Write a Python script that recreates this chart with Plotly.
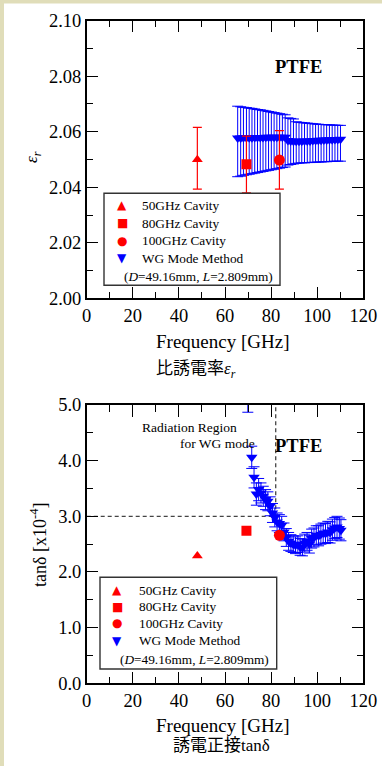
import plotly.graph_objects as go

W, H = 382, 766
SERIF = "Liberation Serif, Times New Roman, serif"
CJK = "Liberation Serif, Noto Sans CJK JP, serif"

# ---------------- data ----------------
# cavity resonator results (frequency GHz)
cav_names = ["50GHz Cavity", "80GHz Cavity", "100GHz Cavity"]
cav_freq = [48.0, 69.3, 83.6]
cav_eps = [2.0500, 2.0483, 2.0498]
cav_eps_hi = [2.0616, 2.0584, 2.0604]
cav_eps_lo = [2.0393, 2.0380, 2.0393]
cav_tan = [2.29, 2.74, 2.66]

# WG mode method: relative permittivity
wg_freq = [65.5, 66.8, 68.0, 69.3, 70.5, 71.7, 72.9, 74.1, 75.3, 76.5, 77.7, 78.9, 80.1,
           81.3, 82.5, 83.7, 84.9, 86.1, 87.3, 88.5, 89.7, 90.9, 92.1, 93.3, 94.5, 95.7,
           96.9, 98.1, 99.3, 100.5, 101.7, 102.9, 104.1, 105.3, 106.5, 107.7, 108.9, 110.1]
wg_eps = [2.0577, 2.0577, 2.0578, 2.0578, 2.0578, 2.0578, 2.0579, 2.0579, 2.0579, 2.0579,
          2.0580, 2.0580, 2.0580, 2.0580, 2.0580, 2.0580, 2.0580, 2.0580,
          2.0568, 2.0567, 2.0566, 2.0566, 2.0566, 2.0566, 2.0567, 2.0567, 2.0567, 2.0568, 2.0568,
          2.0569, 2.0569, 2.0570, 2.0570, 2.0571, 2.0571, 2.0572, 2.0572, 2.0573]
wg_eps_hi = [2.0692, 2.0690, 2.0688, 2.0687, 2.0685, 2.0684, 2.0682, 2.0680, 2.0679, 2.0677,
             2.0675, 2.0673, 2.0671, 2.0669, 2.0667, 2.0665, 2.0663, 2.0661, 2.0650, 2.0648,
             2.0646, 2.0636, 2.0634, 2.0633, 2.0632, 2.0631, 2.0630, 2.0629, 2.0628, 2.0627,
             2.0626, 2.0626, 2.0625, 2.0625, 2.0624, 2.0624, 2.0623, 2.0623]
wg_eps_lo = [2.0438, 2.0440, 2.0443, 2.0445, 2.0447, 2.0449, 2.0451, 2.0453, 2.0455, 2.0457,
             2.0459, 2.0461, 2.0463, 2.0465, 2.0467, 2.0469, 2.0471, 2.0473, 2.0480, 2.0482,
             2.0484, 2.0486, 2.0487, 2.0488, 2.0488, 2.0489, 2.0489, 2.0490, 2.0490, 2.0491,
             2.0491, 2.0492, 2.0492, 2.0493, 2.0493, 2.0494, 2.0494, 2.0494]

# WG mode method: loss tangent (x1e-4)
tan_freq = [66.8, 68.0, 69.9, 71.6, 72.6, 73.6, 74.6, 75.6, 76.6, 77.6, 78.6, 79.6, 80.6,
            81.6, 82.6, 83.6, 84.6, 85.6, 86.6, 87.6, 88.6, 89.6, 90.6, 91.6, 92.6, 93.6,
            94.6, 95.6, 96.6, 97.6, 98.6, 99.6, 100.6, 101.6, 102.6, 103.6, 104.6, 105.6,
            106.6, 107.6, 108.6, 109.6, 110.3]
tan_val = [7.5, 6.3, 5.30, 4.06, 3.70, 3.40, 3.48, 3.42, 3.36, 3.30, 3.27, 3.18, 3.06,
           2.98, 2.90, 2.87, 2.84, 2.72, 2.62, 2.55, 2.52, 2.50, 2.48, 2.50, 2.45, 2.44,
           2.52, 2.55, 2.50, 2.60, 2.62, 2.66, 2.65, 2.68, 2.70, 2.69, 2.72, 2.71,
           2.76, 2.79, 2.81, 2.78, 2.75]
tan_err = [0.5, 0.45, 0.43, 0.20, 0.19, 0.20, 0.20, 0.18, 0.18, 0.18, 0.17, 0.17, 0.17,
           0.17, 0.16, 0.16, 0.16, 0.16, 0.16, 0.16, 0.15, 0.15, 0.15, 0.15, 0.15, 0.15,
           0.16, 0.16, 0.16, 0.17, 0.17, 0.17, 0.18, 0.18, 0.18, 0.18, 0.19, 0.19,
           0.19, 0.19, 0.19, 0.19, 0.19]

# ---------------- helpers (pixel -> paper) ----------------
def fx(px):
    return px / W

def fy(py):
    return 1 - py / H

RED = "#ff0000"
BLUE = "#0000ff"
cav_symbols = ["triangle-up", "square", "circle"]
cav_sizes = [9.5, 10, 11]

fig = go.Figure()

# ---- top: permittivity ----
fig.add_trace(go.Scatter(
    x=wg_freq, y=wg_eps, mode="markers", xaxis="x", yaxis="y",
    marker=dict(symbol="triangle-down", size=10, color=BLUE),
    error_y=dict(type="data", symmetric=False,
                 array=[h - v for h, v in zip(wg_eps_hi, wg_eps)],
                 arrayminus=[v - l for l, v in zip(wg_eps_lo, wg_eps)],
                 color=BLUE, thickness=1, width=5.5),
    showlegend=False))
for i in range(3):
    fig.add_trace(go.Scatter(
        x=[cav_freq[i]], y=[cav_eps[i]], mode="markers", xaxis="x", yaxis="y",
        marker=dict(symbol=cav_symbols[i], size=cav_sizes[i], color=RED),
        error_y=dict(type="data", symmetric=False,
                     array=[cav_eps_hi[i] - cav_eps[i]],
                     arrayminus=[cav_eps[i] - cav_eps_lo[i]],
                     color=RED, thickness=1.2, width=4.5),
        showlegend=False))

# ---- bottom: loss tangent ----
fig.add_trace(go.Scatter(
    x=tan_freq, y=tan_val, mode="markers", xaxis="x2", yaxis="y2",
    marker=dict(symbol="triangle-down", size=10, color=BLUE),
    error_y=dict(type="data", array=tan_err, color=BLUE, thickness=1, width=5.5),
    showlegend=False))
for i in range(3):
    fig.add_trace(go.Scatter(
        x=[cav_freq[i]], y=[cav_tan[i]], mode="markers", xaxis="x2", yaxis="y2",
        marker=dict(symbol=cav_symbols[i], size=cav_sizes[i], color=RED),
        showlegend=False))

# ---------------- axes ----------------
tickfont = dict(family=SERIF, size=18.5, color="black")
common = dict(showline=True, linecolor="black", linewidth=1.5, mirror="allticks",
              ticks="inside", ticklen=12, tickwidth=1.3, tickcolor="black",
              showgrid=False, zeroline=False, tickfont=tickfont, automargin=False)
xdom = [fx(86.7), fx(363.3)]
fig.update_layout(
    xaxis=dict(domain=xdom, range=[0, 120], dtick=20, anchor="y",
               minor=dict(dtick=10, ticklen=7, tickwidth=1.3, tickcolor="black", ticks="inside"),
               **common),
    yaxis=dict(domain=[fy(298.3), fy(20.7)], range=[2.0, 2.1], dtick=0.02, tickformat=".2f",
               anchor="x",
               minor=dict(dtick=0.01, ticklen=7, tickwidth=1.3, tickcolor="black", ticks="inside"),
               **common),
    xaxis2=dict(domain=xdom, range=[0, 120], dtick=20, anchor="y2",
                minor=dict(dtick=10, ticklen=7, tickwidth=1.3, tickcolor="black", ticks="inside"),
                **common),
    yaxis2=dict(domain=[fy(683.3), fy(405)], range=[0, 5], dtick=1, tickformat=".1f",
                anchor="x2",
                minor=dict(dtick=0.5, ticklen=7, tickwidth=1.3, tickcolor="black", ticks="inside"),
                **common),
)

# ---------------- shapes ----------------
BEIGE = "#e0ddb9"
shapes = [
    dict(type="rect", xref="paper", yref="paper", x0=0, x1=fx(4), y0=0, y1=1,
         fillcolor=BEIGE, line_width=0, layer="below"),
    dict(type="rect", xref="paper", yref="paper", x0=0, x1=1, y0=fy(3.5), y1=1,
         fillcolor=BEIGE, line_width=0, layer="below"),
    # radiation region dashed lines
    dict(type="line", xref="x2", yref="y2", x0=0, x1=82, y0=3.0, y1=3.0,
         line=dict(color="#444444", width=1.3, dash="4px,3px"), layer="below"),
    dict(type="line", xref="x2", yref="y2", x0=82, x1=82, y0=3.0, y1=5.0,
         line=dict(color="#444444", width=1.3, dash="4px,3px"), layer="below"),
    # legend boxes
    dict(type="rect", xref="paper", yref="paper", x0=fx(104), x1=fx(280), y0=fy(285.3), y1=fy(193.3),
         fillcolor="white", line=dict(color="#333333", width=1.4), layer="above"),
    dict(type="rect", xref="paper", yref="paper", x0=fx(100), x1=fx(276.7), y0=fy(669), y1=fy(577.3),
         fillcolor="white", line=dict(color="#333333", width=1.4), layer="above"),
]

# ---------------- annotations ----------------
ann = []
def text(t, x, y, size, family=SERIF, xanchor="center", color="black", angle=0):
    ann.append(dict(text=t, x=fx(x), y=fy(y), xref="paper", yref="paper", showarrow=False,
                    xanchor=xanchor, yanchor="middle", textangle=angle,
                    font=dict(family=family, size=size, color=color)))

# axis titles & captions
text("Frequency [GHz]", 222.5, 341, 19)
text("Frequency [GHz]", 222.5, 725, 19)
text("<i>ε<sub>r</sub></i>", 33, 157, 17, angle=-90)
text("tanδ [x10<sup>-4</sup>]", 38, 545, 18, angle=-90)
text("比誘電率<i>ε<sub>r</sub></i>", 196, 370, 17, family=CJK)
text("誘電正接tanδ", 221, 745, 17, family=CJK)
# PTFE labels
text("<b>PTFE</b>", 298.5, 66.7, 18.5)
text("<b>PTFE</b>", 298.5, 445.7, 18.5)
# radiation region
text("Radiation Region", 140, 427.7, 13.5, xanchor="left")
text("for WG mode", 178, 443.3, 13.5, xanchor="left")

# legends (manual)
leg_labels = cav_names + ["WG Mode Method"]
leg_glyphs = ["▲", "■", "●", "▼"]
leg_colors = [RED, RED, RED, BLUE]
top_rows = [205.5, 223, 240.8, 258.3]
bot_rows = [590, 606.7, 623.3, 640.7]
for i in range(4):
    text(leg_glyphs[i], 122.3, top_rows[i], 12, family="DejaVu Sans", color=leg_colors[i])
    text(leg_labels[i], 140, top_rows[i], 13.3, xanchor="left")
    text(leg_glyphs[i], 117.3, bot_rows[i], 12, family="DejaVu Sans", color=leg_colors[i])
    text(leg_labels[i], 136.7, bot_rows[i], 13.3, xanchor="left")
text("(<i>D</i>=49.16mm, <i>L</i>=2.809mm)", 122.3, 276, 13.3, xanchor="left")
text("(<i>D</i>=49.16mm, <i>L</i>=2.809mm)", 118.3, 659, 13.3, xanchor="left")

fig.update_layout(
    width=W, height=H, margin=dict(l=0, r=0, t=0, b=0),
    paper_bgcolor="white", plot_bgcolor="white",
    shapes=shapes, annotations=ann, showlegend=False,
)

fig.write_html("out.html", config={"displayModeBar": False})
